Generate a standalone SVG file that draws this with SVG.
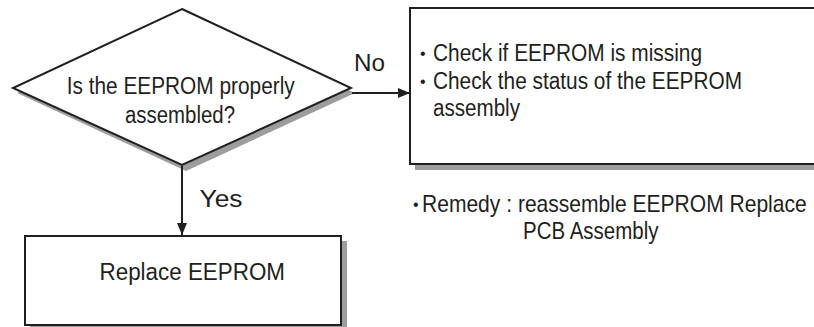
<svg xmlns="http://www.w3.org/2000/svg" width="814" height="327" viewBox="0 0 814 327">
<style>
.shape{fill:#fff;stroke:#231f20;stroke-width:2}
.shadow{fill:#9d9d9d;stroke:none}
.t{font-family:"Liberation Sans",Arial,Helvetica,sans-serif;font-size:23px;fill:#231f20}
.b{font-family:"Liberation Sans",Arial,Helvetica,sans-serif;font-size:16px;fill:#231f20}
.conn{stroke:#231f20;stroke-width:2;fill:none}
</style>
<defs>
<marker id="arrow" markerUnits="userSpaceOnUse" markerWidth="13" markerHeight="11" refX="12" refY="5" orient="auto">
<path d="M0,0 L12,5 L0,10 Z" fill="#231f20"/>
</marker>
</defs>
<rect width="814" height="327" fill="#fff"/>
<g id="decision">
<polygon class="shadow" points="186,14 355,93 186,171 17,93"/>
<polygon class="shape" points="182,9 351,88 182,165 13,88"/>
<text class="t" x="66.7" y="93.5" textLength="228" lengthAdjust="spacingAndGlyphs">Is the EEPROM properly</text>
<text class="t" x="125" y="123" textLength="110" lengthAdjust="spacingAndGlyphs">assembled?</text>
</g>
<g id="check">
<rect class="shadow" x="415" y="13" width="410" height="157"/>
<rect class="shape" x="410" y="8" width="410" height="156"/>
<text class="b" x="420" y="58.5">•</text>
<text class="t" x="433" y="61" textLength="269" lengthAdjust="spacingAndGlyphs">Check if EEPROM is missing</text>
<text class="b" x="420" y="86.5">•</text>
<text class="t" x="433" y="89" textLength="309" lengthAdjust="spacingAndGlyphs">Check the status of the EEPROM</text>
<text class="t" x="433" y="116" textLength="87" lengthAdjust="spacingAndGlyphs">assembly</text>
</g>
<g id="remedy">
<text class="b" x="413" y="209.5">•</text>
<text class="t" transform="translate(422,212) scale(0.9155,1)">Remedy : reassemble EEPROM Replace</text>
<text class="t" x="523" y="239" textLength="135.5" lengthAdjust="spacingAndGlyphs">PCB Assembly</text>
</g>
<g id="replace">
<rect class="shadow" x="30" y="241" width="317" height="95"/>
<rect class="shape" x="25" y="236" width="316" height="89"/>
<text class="t" x="99.5" y="280" textLength="185.5" lengthAdjust="spacingAndGlyphs">Replace EEPROM</text>
</g>
<g id="connectors">
<line class="conn" x1="352" y1="93" x2="410" y2="93" marker-end="url(#arrow)"/>
<line class="conn" x1="182" y1="166" x2="182" y2="235" marker-end="url(#arrow)"/>
<text class="t" x="354" y="71" textLength="31" lengthAdjust="spacingAndGlyphs">No</text>
<text class="t" x="199.5" y="207" textLength="43" lengthAdjust="spacingAndGlyphs">Yes</text>
</g>
</svg>
